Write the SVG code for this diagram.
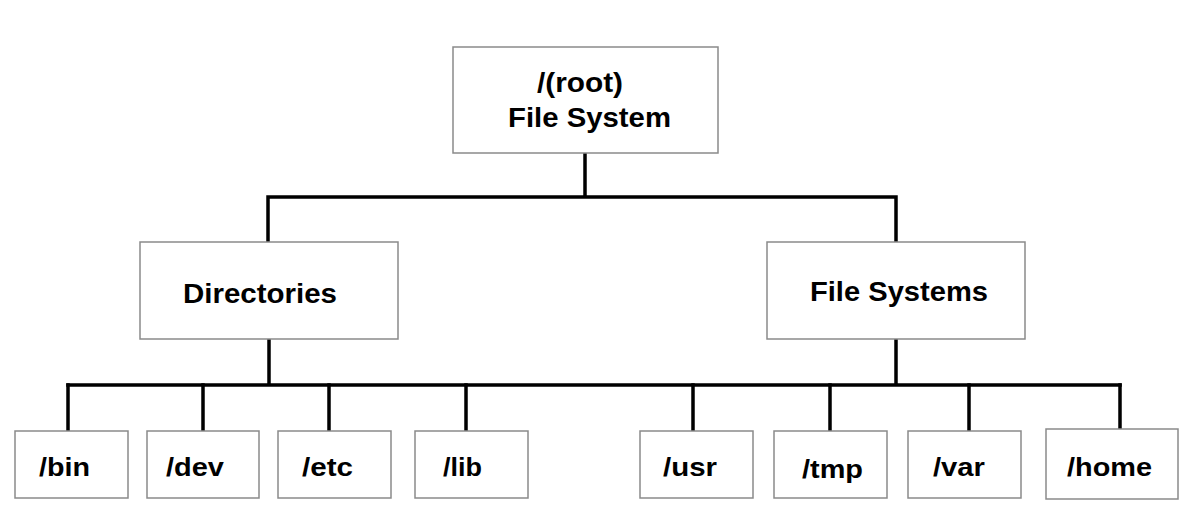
<svg xmlns="http://www.w3.org/2000/svg" width="1200" height="524" viewBox="0 0 1200 524">
<style>
.box{fill:#fff;stroke:#8a8a8a;stroke-width:1.5}
.lbl{font-family:"Liberation Sans",Arial,sans-serif;font-weight:bold;fill:#000}
.big{font-size:28px}
.sm{font-size:26px}
.conn{stroke:#000;stroke-width:3.5;fill:none;stroke-linecap:square;stroke-linejoin:miter}
</style>
<rect width="1200" height="524" fill="#fff"/>
<g id="connectors">
<path class="conn" d="M585,153 V197 M268,197 H896 M268,197 V242 M896,197 V242"/>
<path class="conn" d="M269,339 V385 M896,339 V385 M68,385 H1120"/>
<path class="conn" d="M68,385 V431 M203,385 V431 M329,385 V431 M466,385 V431 M693,385 V431 M830,385 V431 M969,385 V431 M1120,385 V429"/>
</g>
<g id="root">
<rect class="box" x="453" y="47" width="265" height="106"/>
<text class="lbl big" x="537" y="92" textLength="86" lengthAdjust="spacingAndGlyphs">/(root)</text>
<text class="lbl big" x="508" y="127" textLength="163" lengthAdjust="spacingAndGlyphs">File System</text>
</g>
<g id="directories">
<rect class="box" x="140" y="242" width="258" height="97"/>
<text class="lbl big" x="183" y="303" textLength="154" lengthAdjust="spacingAndGlyphs">Directories</text>
</g>
<g id="filesystems">
<rect class="box" x="767" y="242" width="258" height="97"/>
<text class="lbl big" x="810" y="301" textLength="178" lengthAdjust="spacingAndGlyphs">File Systems</text>
</g>
<g id="bin">
<rect class="box" x="15" y="431" width="113" height="67"/>
<text class="lbl sm" x="39" y="476" textLength="51" lengthAdjust="spacingAndGlyphs">/bin</text>
</g>
<g id="dev">
<rect class="box" x="147" y="431" width="112" height="67"/>
<text class="lbl sm" x="166" y="476" textLength="58" lengthAdjust="spacingAndGlyphs">/dev</text>
</g>
<g id="etc">
<rect class="box" x="278" y="431" width="113" height="67"/>
<text class="lbl sm" x="302" y="476" textLength="51" lengthAdjust="spacingAndGlyphs">/etc</text>
</g>
<g id="lib">
<rect class="box" x="415" y="431" width="113" height="67"/>
<text class="lbl sm" x="443" y="476" textLength="39" lengthAdjust="spacingAndGlyphs">/lib</text>
</g>
<g id="usr">
<rect class="box" x="640" y="431" width="113" height="67"/>
<text class="lbl sm" x="663" y="476" textLength="54" lengthAdjust="spacingAndGlyphs">/usr</text>
</g>
<g id="tmp">
<rect class="box" x="774" y="431" width="113" height="67"/>
<text class="lbl sm" x="802" y="478" textLength="61" lengthAdjust="spacingAndGlyphs">/tmp</text>
</g>
<g id="var">
<rect class="box" x="908" y="431" width="113" height="67"/>
<text class="lbl sm" x="933" y="476" textLength="52" lengthAdjust="spacingAndGlyphs">/var</text>
</g>
<g id="home">
<rect class="box" x="1046" y="429" width="132" height="70"/>
<text class="lbl sm" x="1067" y="476" textLength="85" lengthAdjust="spacingAndGlyphs">/home</text>
</g>
</svg>
